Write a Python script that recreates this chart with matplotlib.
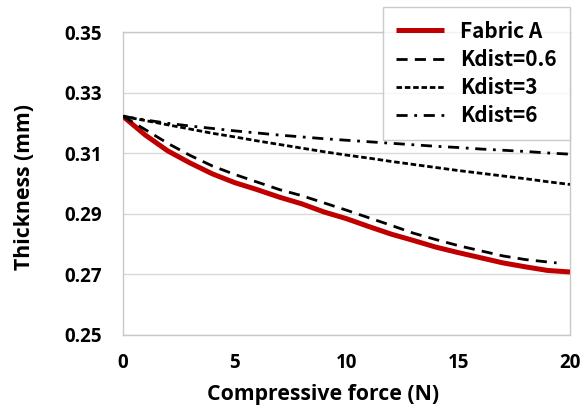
import matplotlib

matplotlib.use("Agg")
import matplotlib.pyplot as plt

# Thickness (mm) against compressive force (N): measured fabric and the
# simulated curves for three Kdist values.
force = [0, 1, 2, 3, 4, 5, 6, 7, 8, 9, 10, 11, 12, 13, 14, 15, 16, 17, 18, 19, 20]
fabric_a = [0.3222, 0.3160, 0.3108, 0.3068, 0.3032, 0.3003, 0.2980, 0.2955,
            0.2933, 0.2906, 0.2884, 0.2858, 0.2833, 0.2812, 0.2790, 0.2772,
            0.2755, 0.2738, 0.2725, 0.2713, 0.2708]

force_k06 = [0, 1, 2, 3, 4, 5, 6, 7, 8, 9, 10, 11, 12, 13, 14, 15, 16, 17, 18, 19, 19.4]
kdist_06 = [0.3222, 0.3178, 0.3133, 0.3093, 0.3058, 0.3030, 0.3005, 0.2980,
            0.2960, 0.2936, 0.2912, 0.2887, 0.2862, 0.2836, 0.2815, 0.2795,
            0.2778, 0.2761, 0.2749, 0.2741, 0.2738]
kdist_3 = [0.3222, 0.3208, 0.3194, 0.3180, 0.3166, 0.3154, 0.3141, 0.3129,
           0.3117, 0.3105, 0.3094, 0.3084, 0.3073, 0.3063, 0.3053, 0.3043,
           0.3034, 0.3025, 0.3016, 0.3006, 0.2997]
kdist_6 = [0.3222, 0.3210, 0.3199, 0.3190, 0.3182, 0.3174, 0.3167, 0.3160,
           0.3154, 0.3148, 0.3143, 0.3138, 0.3133, 0.3128, 0.3123, 0.3119,
           0.3114, 0.3110, 0.3106, 0.3101, 0.3097]

x_ticks = [0, 5, 10, 15, 20]
y_ticks = [0.25, 0.27, 0.29, 0.31, 0.33, 0.35]

TICK_FONT = ["Open Sans", "DejaVu Sans"]
LEGEND_FONT = ["Noto Sans CJK JP", "DejaVu Sans"]
GRID = "#d9d9d9"

fig = plt.figure(figsize=(5.87, 4.12), dpi=100)
ax = fig.add_axes([0.2095, 0.187, 0.7615, 0.735])

ax.plot(force, fabric_a, color="#c00000", linewidth=3.6, label="Fabric A",
        solid_capstyle="butt", zorder=3)
ax.plot(force_k06, kdist_06, color="black", linewidth=2.0,
        dashes=(4, 2.6), label="Kdist=0.6", zorder=4)
ax.plot(force, kdist_3, color="black", linewidth=2.0,
        dashes=(2.0, 1.0), label="Kdist=3", zorder=4)
ax.plot(force, kdist_6, color="black", linewidth=2.0,
        dashes=(4, 2.4, 1.0, 2.4), label="Kdist=6", zorder=4)

ax.set_xlim(0, 20)
ax.set_ylim(0.25, 0.35)
ax.set_xticks(x_ticks)
ax.set_yticks(y_ticks)
ax.set_yticklabels([f"{v:.2f}" for v in y_ticks])
ax.tick_params(axis="y", length=0, pad=15, labelsize=13.5)
ax.tick_params(axis="x", length=0, pad=13, labelsize=13.5)
for lbl in ax.get_xticklabels() + ax.get_yticklabels():
    lbl.set_family(TICK_FONT)
    lbl.set_fontweight("bold")
ax.yaxis.grid(True, color=GRID, linewidth=1.0)
ax.set_axisbelow(True)
for side in ("left", "right", "top", "bottom"):
    ax.spines[side].set_color("#c8c8c8")
    ax.spines[side].set_linewidth(1.0)

ax.set_xlabel("Compressive force (N)", family=TICK_FONT, fontweight="bold",
              fontsize=15.3)
ax.set_ylabel("Thickness (mm)", family=TICK_FONT, fontweight="bold",
              fontsize=15.3)
ax.xaxis.set_label_coords(0.447, -0.162)
ax.yaxis.set_label_coords(-0.196, 0.49)

leg = ax.legend(loc="upper right", bbox_to_anchor=(1.0, 1.083),
                prop={"family": LEGEND_FONT, "weight": "bold", "size": 15},
                frameon=True, fancybox=False, handlelength=2.3,
                handletextpad=0.75, labelspacing=0.35, borderpad=0.65,
                borderaxespad=0)
leg.get_frame().set_edgecolor("#bfbfbf")
leg.get_frame().set_linewidth(1.0)

fig.savefig("out.png", dpi=100)
